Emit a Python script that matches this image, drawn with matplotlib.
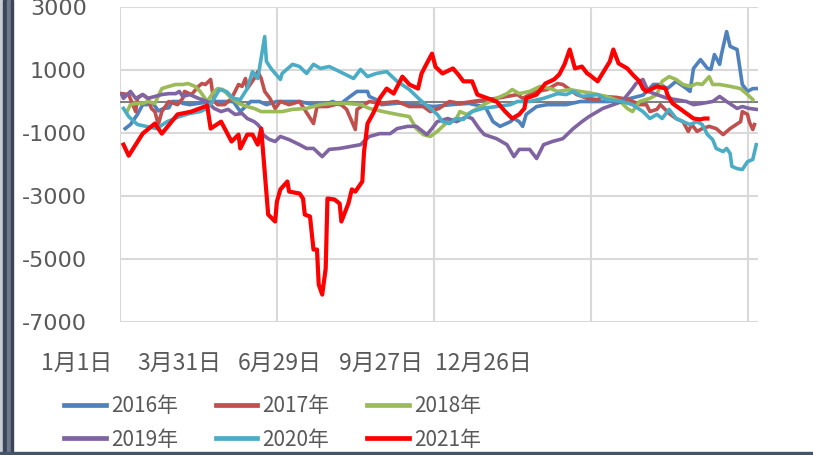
import matplotlib
matplotlib.use("Agg")
import matplotlib.pyplot as plt
from matplotlib.patches import Rectangle

# day of year (0 = 1月1日) and value for each year
days16 = [3,6,10,13,16,19,22,25,28,30,34,36,40,46,53,60,65,69,75,80,84,90,96,103,111,119,122,126,132,136,142,143,147,150,160,170,180,190,200,206,210,214,218,224,226,229,231,233,239,245,256,264,280,290,300,306,310,314,319,325,327,329,333,337,339,341,344,345,348,350,354,357,360,363,366]
vals16 = [-860,-730,-410,-100,-100,-60,-300,-220,-200,0,0,-60,-100,-50,0,0,0,-320,0,0,-100,0,0,0,-100,-60,0,-100,160,320,320,160,60,-100,-50,-100,-160,-100,-60,-130,-220,-640,-790,-640,-540,-640,-790,-410,-160,-100,-100,0,0,60,200,540,540,410,640,410,320,1050,1330,1050,1020,1490,1180,1490,2220,1750,1650,540,320,410,410]

days17 = [1,5,7,9,10,13,16,18,20,22,24,28,33,36,37,41,45,47,49,52,53,54,56,60,64,68,70,72,73,77,79,81,83,86,89,92,97,103,111,113,119,126,130,135,136,143,149,159,166,174,178,183,189,195,202,210,216,222,228,231,235,239,245,251,254,258,262,268,274,277,285,292,298,302,304,308,310,315,319,323,326,328,331,334,338,342,346,350,356,357,360,361,363,364]
vals17 = [250,220,-60,-320,100,220,100,-220,-320,-730,-320,0,-100,100,320,220,480,570,540,700,320,0,-100,-100,100,540,480,730,410,730,950,730,320,100,-220,0,-100,0,-700,-160,-160,-60,-250,-890,-250,0,-60,0,-160,-160,-320,-220,0,-60,0,60,100,160,220,100,220,320,380,570,540,380,220,100,60,160,130,60,-100,-100,-320,-250,-100,-380,-540,-640,-950,-730,-950,-860,-790,-860,-1050,-860,-640,-320,-410,-640,-890,-730]

days18 = [4,6,9,13,16,20,24,28,32,36,39,43,46,48,50,54,56,59,64,68,73,77,81,87,93,99,107,115,122,130,138,143,151,159,166,170,174,178,182,188,193,195,199,205,210,216,222,225,229,235,241,247,251,258,264,269,279,287,291,294,298,304,308,311,315,319,323,327,331,334,338,340,344,350,356,360,363]
vals18 = [-320,-100,-60,-60,0,-60,410,480,540,540,570,480,320,160,0,320,410,380,100,-60,-160,-220,-320,-320,-320,-250,-220,-100,-60,-60,-100,-220,-320,-410,-480,-860,-1050,-1110,-950,-640,-540,-320,-410,-220,-60,100,250,380,250,320,480,410,320,380,320,280,160,0,-220,-320,0,100,220,640,790,700,540,480,570,540,790,540,540,480,410,220,60]

days19 = [1,2,6,9,13,16,20,24,28,32,34,36,40,45,50,54,58,62,66,70,73,77,79,81,82,85,86,89,92,97,103,107,111,116,120,126,132,138,143,149,155,159,165,170,176,179,182,188,193,199,202,206,209,216,222,226,229,235,239,243,248,254,260,265,269,277,283,288,294,296,300,303,308,314,319,325,329,334,340,344,348,354,357,361,365]
vals19 = [220,100,320,100,220,100,160,220,250,250,320,160,220,100,0,-220,-320,-250,-410,-380,-540,-640,-730,-860,-1050,-1180,-1210,-1270,-1110,-1210,-1370,-1490,-1490,-1750,-1520,-1490,-1430,-1370,-1110,-1020,-1020,-860,-790,-790,-1050,-860,-640,-540,-640,-480,-540,-860,-1050,-1180,-1370,-1750,-1520,-1520,-1810,-1370,-1270,-1180,-860,-640,-480,-220,-100,0,410,570,700,320,220,100,60,0,-100,-60,0,160,0,-220,-160,-220,-250]

days20 = [2,5,10,15,21,27,34,40,46,50,53,57,61,65,69,73,76,79,80,83,84,87,92,93,99,103,107,111,115,120,126,134,138,142,147,153,159,166,172,178,182,185,189,193,197,202,208,216,224,228,235,243,251,256,260,265,274,279,288,294,300,304,308,311,315,319,323,327,331,334,337,340,342,346,348,350,351,354,357,360,363,365]
vals20 = [-220,-480,-730,-790,-860,-640,-480,-380,-320,-220,0,380,320,100,60,410,950,730,1050,2060,1270,1020,700,890,1180,1110,890,1180,1050,1110,950,730,1020,790,890,950,640,380,60,-220,-410,-640,-700,-540,-570,-320,-220,-160,-100,0,0,100,250,220,320,160,220,60,0,-100,-320,-540,-410,-540,-250,-540,-640,-730,-640,-730,-1050,-1210,-1490,-1590,-1490,-1650,-2060,-2130,-2160,-1910,-1840,-1370]

days21 = [2,5,13,20,24,33,41,50,52,58,64,68,69,73,76,79,81,85,89,90,92,96,97,103,105,106,109,111,113,114,116,118,119,123,126,127,131,133,135,139,140,142,145,147,149,153,157,162,166,171,173,176,179,181,185,191,194,197,202,205,211,216,221,225,229,232,233,239,244,249,252,255,258,261,265,268,269,274,281,283,286,291,294,298,300,302,308,313,314,317,321,325,329,333,335,337]
vals21 = [-1370,-1720,-1020,-700,-1020,-410,-320,-130,-860,-640,-1270,-1050,-1490,-1050,-1050,-1370,-860,-3590,-3810,-3180,-2790,-2540,-2860,-2920,-3080,-3590,-3650,-4700,-4700,-5810,-6130,-5300,-3080,-3110,-3240,-3810,-3240,-2790,-2860,-2540,-1590,-700,-400,-160,100,410,250,790,540,410,890,1210,1520,1100,890,1050,860,640,640,220,100,0,-320,-540,-410,-220,100,220,570,700,860,1180,1650,1050,1110,890,860,640,1270,1650,1210,1050,860,640,410,320,480,410,220,-60,-220,-380,-540,-570,-540,-540]

yticks = [-7000, -5000, -3000, -1000, 1000, 3000]
ylabels = ["-7000", "-5000", "-3000", "-1000", "1000", "3000"]
xticks = [0, 90, 180, 270, 360]
xlabels = ["1月1日", "3月31日", "6月29日", "9月27日", "12月26日"]

cjk = ["Liberation Sans Narrow", "Noto Sans CJK SC", "DejaVu Sans"]
grey_txt = "#595959"

W, H = 813, 455
fig = plt.figure(figsize=(W/100, H/100), dpi=100)
ax = fig.add_axes([120/W, 1-322/H, 638/W, 315/H])

series = [
    (days16, vals16, "2016年", "#4F81BD", 2.6),
    (days17, vals17, "2017年", "#C0504D", 2.6),
    (days18, vals18, "2018年", "#9BBB59", 2.6),
    (days19, vals19, "2019年", "#8064A2", 2.6),
    (days20, vals20, "2020年", "#4BACC6", 2.6),
    (days21, vals21, "2021年", "#FF0000", 3.0),
]
lines = []
for d, v, lab, c, lw in series:
    ln, = ax.plot(d, v, color=c, lw=lw, label=lab, solid_joinstyle="round", zorder=3)
    lines.append(ln)

ax.axhline(0, color="#808080", lw=1.5, zorder=2)
ax.set_xlim(0, 366)
ax.set_ylim(-7000, 3000)
ax.set_xticks(xticks)
ax.set_xticklabels([])
ax.set_yticks(yticks)
ax.set_yticklabels(ylabels)
ax.grid(True, color="#D9D9D9", lw=1.5)
ax.set_axisbelow(True)
for s in ax.spines.values():
    s.set_visible(False)
ax.tick_params(length=0, pad=24, labelsize=16, labelcolor=grey_txt)

# x labels sit left of the gridlines in the original
xpos = [77, 179, 280, 381, 483]
for xp, t in zip(xpos, xlabels):
    fig.text(xp/W, 1-363/H, t, ha="center", va="center", color=grey_txt,
             family=cjk, size=16.5)

# legend: rows 2016-2018 / 2019-2021 (matplotlib fills by column)
order = [0, 3, 1, 4, 2, 5]
leg = fig.legend([lines[i] for i in order], [series[i][2] for i in order],
                 ncol=3, loc="center left", bbox_to_anchor=(64/W, 1-423/H),
                 frameon=False, prop=dict(family=cjk, size=15),
                 handlelength=2.0, handletextpad=0.25, columnspacing=1.8,
                 labelspacing=0.55, borderpad=0, borderaxespad=0)
for t in leg.get_texts():
    t.set_color(grey_txt)
for l in leg.get_lines():
    l.set_linewidth(3.4)

# window edge left and bottom
fig.patches.append(Rectangle((0, 0), 3/W, 1, transform=fig.transFigure, color="#c9ced6"))
fig.patches.append(Rectangle((3/W, 0), 4/W, 1, transform=fig.transFigure, color="#3b4658"))
fig.patches.append(Rectangle((7/W, 0), 4/W, 1, transform=fig.transFigure, color="#6e7889"))
fig.patches.append(Rectangle((11/W, 0), 2/W, 1, transform=fig.transFigure, color="#3b4658"))
fig.patches.append(Rectangle((0, 0), 1, 3/H, transform=fig.transFigure, color="#44546a"))

fig.savefig("out.png", dpi=100)
